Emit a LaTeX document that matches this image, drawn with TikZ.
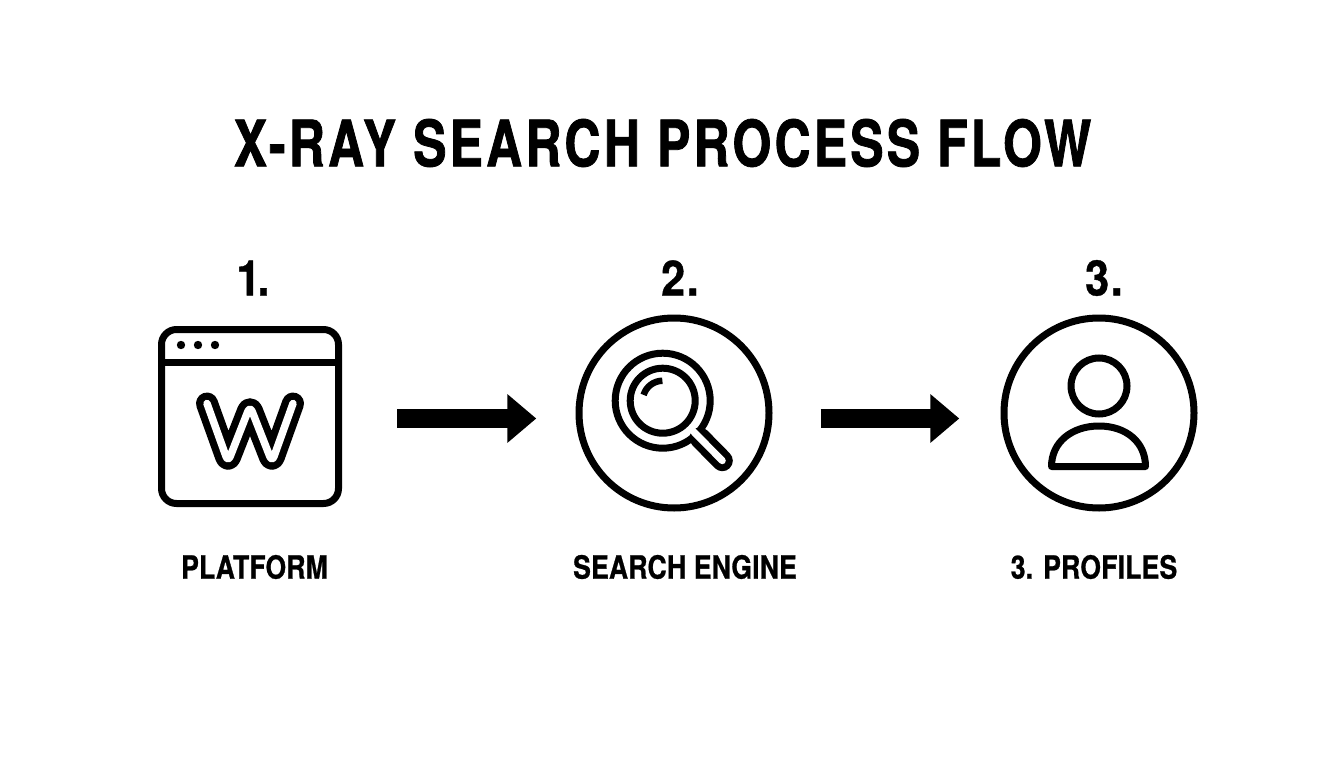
\documentclass[tikz,border=0pt]{standalone}
\usepackage{fontspec}
\setmainfont{TeX Gyre Heros}
\newfontfamily\titlefont{TeX Gyre Heros Bold}[FakeStretch=0.78,LetterSpace=5,FakeBold=1.2]
\newfontfamily\numfont{TeX Gyre Heros Bold}[FakeStretch=0.88,LetterSpace=3.5,FakeBold=0.8]
\newfontfamily\capfont{TeX Gyre Heros Bold}[FakeStretch=0.83,LetterSpace=0.6,FakeBold=0.8]
\usetikzlibrary{arrows.meta,calc}
\tikzset{
  ink/.style={draw=black,line width=7pt},
  title/.style={inner sep=0pt,font=\fontsize{64}{66}\titlefont},
  numlabel/.style={inner sep=0pt,font=\fontsize{49}{52}\numfont},
  caption/.style={inner sep=0pt,font=\fontsize{32}{34}\capfont},
  flow/.style={draw=black,line width=19pt,-{Triangle[length=29pt,width=47pt]}},
  iconbox/.style={draw=none,inner sep=0pt,minimum width=184pt,minimum height=181pt},
  iconcirc/.style={draw=none,inner sep=0pt,shape=circle,minimum size=197pt},
}
\begin{document}
\begin{tikzpicture}[x=1pt,y=-1pt]
\useasboundingbox (0,0) rectangle (1344,768);
\fill[white] (0,0) rectangle (1344,768);
\node[title] (ttl) at (662.5,143) {X-RAY SEARCH PROCESS FLOW};
\node[numlabel] (n1) at (253,278) {1\kern-3pt.};
\node[numlabel] (n2) at (680,278) {2.};
\node[numlabel] (n3) at (1104,278) {3.};
\node[caption] (c1) at (254.5,567) {PLATFORM};
\node[caption] (c2) at (685,567) {SEARCH ENGINE};
\node[caption] (c3) at (1094,567) {3. PROFILES};
\node[iconbox] (win) at (250,416.5) {};
\node[iconcirc] (srch) at (674,413) {};
\node[iconcirc] (prof) at (1099,413) {};
% window
\draw[ink,rounded corners=15pt] (161.5,329.5) rectangle (338.5,503.5);
\draw[ink] (161.5,362) -- (338.5,362);
\foreach \x in {181,198,215} \fill (\x,345) circle (4.2pt);
\draw[black,line width=22pt,line cap=round,line join=round,rounded corners=6pt]
  (207,403.5) -- (228,462) -- (250,406) -- (272,462) -- (293,403.5);
\draw[white,line width=7.5pt,line cap=round,line join=round,rounded corners=6pt]
  (207,403.5) -- (228,462) -- (250,406) -- (272,462) -- (293,403.5);
% search
\draw[ink] (srch.center) circle (95pt);
\draw[ink] (662.7,400.7) circle (47.5pt);
\draw[black,line width=21pt,line cap=round] (700,438) -- (722.3,460.7);
\draw[white,line width=7pt,line cap=round] (690,428) -- (722.3,460.7);
\draw[ink] (662.7,400.7) circle (32.5pt);
\draw[black,line width=6.5pt] (643.6,394.9) arc[start angle=163,end angle=91,radius=20pt];
% person
\draw[ink] (prof.center) circle (95pt);
\draw[ink] (1099,386) circle (28pt);
\draw[ink,line join=round] (1051.5,466.5) .. controls (1051.5,442) and (1072,426) .. (1099,426) .. controls (1126,426) and (1145.5,442) .. (1145.5,466.5) -- cycle;
% connectors
\draw[flow,shorten <=55pt,shorten >=39pt] ([yshift=-2pt]win.east) -- ([yshift=-5.5pt]srch.west);
\draw[flow,shorten <=48pt,shorten >=41pt] ([yshift=-5.5pt]srch.east) -- ([yshift=-5.5pt]prof.west);
\end{tikzpicture}
\end{document}
